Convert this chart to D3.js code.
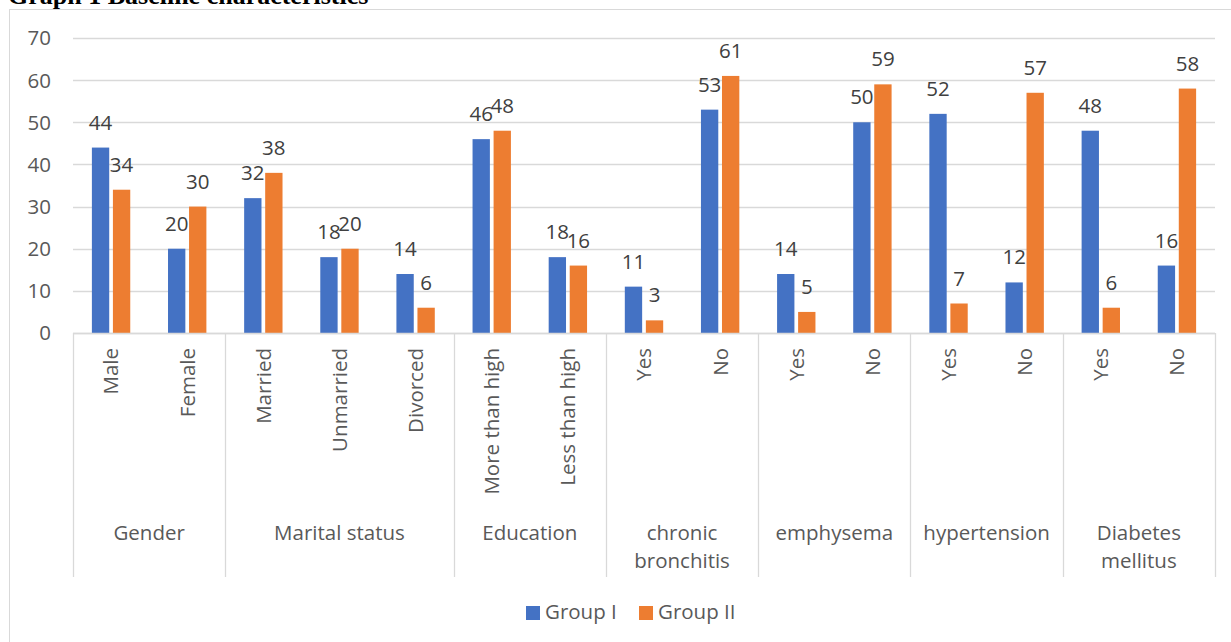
<!DOCTYPE html>
<html>
<head>
<meta charset="utf-8">
<script src="https://cdn.jsdelivr.net/npm/d3@7"></script>
<style>
  html, body { margin: 0; padding: 0; background: #fff; }
  svg { display: block; }
</style>
</head>
<body>
<svg id="chart" width="1231" height="642"></svg>
<script>
// ---- data ----
const groups = [
  { name: ["Gender"], cats: ["Male", "Female"] },
  { name: ["Marital status"], cats: ["Married", "Unmarried", "Divorced"] },
  { name: ["Education"], cats: ["More than high", "Less than high"] },
  { name: ["chronic", "bronchitis"], cats: ["Yes", "No"] },
  { name: ["emphysema"], cats: ["Yes", "No"] },
  { name: ["hypertension"], cats: ["Yes", "No"] },
  { name: ["Diabetes", "mellitus"], cats: ["Yes", "No"] }
];
const groupI  = [44, 20, 32, 18, 14, 46, 18, 11, 53, 14, 50, 52, 12, 48, 16];
const groupII = [34, 30, 38, 20, 6, 48, 16, 3, 61, 5, 59, 7, 57, 6, 58];
const seriesNames = ["Group I", "Group II"];
const yTicks = [0, 10, 20, 30, 40, 50, 60, 70];
const chartTitle = "Graph 1 Baseline characteristics";

// ---- layout ----
const colors = ["#4472C4", "#ED7D31"];
const font = "'Open Sans', sans-serif";
const fs = 20.5;
const pLeft = 73, pRight = 1215, pTop = 38, pBottom = 333;

const svg = d3.select("#chart");

// flat categories
const flat = [];
groups.forEach((g, gi) => g.cats.forEach(c => flat.push({ label: c, group: gi })));
flat.forEach((d, i) => { d.v = [groupI[i], groupII[i]]; d.i = i; });

const x0 = d3.scaleBand().domain(flat.map(d => d.i)).range([pLeft, pRight]).padding(0);
const bw = x0.bandwidth();
const x1 = d3.scaleBand().domain([0, 1]).range([bw * 0.248, bw * 0.752]).paddingInner(0.176).paddingOuter(0);
const y = d3.scaleLinear().domain([0, 70]).range([pBottom, pTop]);

// title (cut off at top)
svg.append("text")
  .attr("x", 8).attr("y", 4)
  .attr("font-family", "'Liberation Serif', 'Times New Roman', serif")
  .attr("font-weight", "bold")
  .attr("font-size", 26)
  .attr("fill", "#000")
  .text(chartTitle);

// chart border (extends beyond the picture on right and bottom)
svg.append("rect")
  .attr("x", 9.5).attr("y", 9.5)
  .attr("width", 1240).attr("height", 660)
  .attr("fill", "none").attr("stroke", "#d9d9d9").attr("stroke-width", 1);

// gridlines
svg.append("g").selectAll("line").data(yTicks).join("line")
  .attr("x1", pLeft).attr("x2", pRight)
  .attr("y1", d => Math.round(y(d)) + 0.5).attr("y2", d => Math.round(y(d)) + 0.5)
  .attr("stroke", "#d9d9d9").attr("stroke-width", 1.3);

// y tick labels
svg.append("g").selectAll("text").data(yTicks).join("text")
  .attr("x", 51).attr("y", d => y(d))
  .attr("dy", "0.36em")
  .attr("text-anchor", "end")
  .attr("font-family", font).attr("font-size", fs)
  .attr("fill", "#595959")
  .text(d => d);

// bars
const catG = svg.append("g").selectAll("g").data(flat).join("g")
  .attr("transform", d => `translate(${x0(d.i)},0)`);
catG.selectAll("rect").data(d => d.v.map((v, s) => ({ v, s }))).join("rect")
  .attr("x", d => x1(d.s))
  .attr("width", x1.bandwidth())
  .attr("y", d => y(d.v))
  .attr("height", d => y(0) - y(d.v))
  .attr("fill", d => colors[d.s]);

// data labels
catG.selectAll("text").data(d => d.v.map((v, s) => ({ v, s }))).join("text")
  .attr("x", d => x1(d.s) + x1.bandwidth() / 2)
  .attr("y", d => y(d.v) - 18)
  .attr("text-anchor", "middle")
  .attr("font-family", font).attr("font-size", fs)
  .attr("fill", "#404040")
  .text(d => d.v);

// x axis line
svg.append("line")
  .attr("x1", pLeft).attr("x2", pRight)
  .attr("y1", pBottom + 0.5).attr("y2", pBottom + 0.5)
  .attr("stroke", "#d9d9d9").attr("stroke-width", 1.3);

// group dividers
const bounds = [0];
let acc = 0;
groups.forEach(g => { acc += g.cats.length; bounds.push(acc); });
svg.append("g").selectAll("line").data(bounds).join("line")
  .attr("x1", d => Math.round(pLeft + d * bw) + 0.5)
  .attr("x2", d => Math.round(pLeft + d * bw) + 0.5)
  .attr("y1", pBottom).attr("y2", 577)
  .attr("stroke", "#d9d9d9").attr("stroke-width", 1.3);

// rotated category labels
svg.append("g").selectAll("text").data(flat).join("text")
  .attr("transform", d => `translate(${x0(d.i) + bw / 2},348) rotate(-90)`)
  .attr("dy", "0.36em")
  .attr("text-anchor", "end")
  .attr("font-family", font).attr("font-size", fs)
  .attr("fill", "#595959")
  .text(d => d.label);

// group labels
const gl = svg.append("g").selectAll("text").data(groups).join("text")
  .attr("x", (d, i) => pLeft + (bounds[i] + bounds[i + 1]) / 2 * bw)
  .attr("y", 540)
  .attr("text-anchor", "middle")
  .attr("font-family", font).attr("font-size", fs)
  .attr("fill", "#595959");
gl.selectAll("tspan").data(d => d.name).join("tspan")
  .attr("x", function() { return d3.select(this.parentNode).attr("x"); })
  .attr("dy", (d, i) => i === 0 ? 0 : 28)
  .text(d => d);

// legend
const legX = [526, 639];
const leg = svg.append("g").selectAll("g").data(seriesNames).join("g")
  .attr("transform", (d, i) => `translate(${legX[i]},606)`);
leg.append("rect").attr("width", 14).attr("height", 14).attr("fill", (d, i) => colors[i]);
leg.append("text")
  .attr("x", 19).attr("y", 13)
  .attr("font-family", font).attr("font-size", fs)
  .attr("fill", "#595959")
  .text(d => d);
</script>
</body>
</html>
